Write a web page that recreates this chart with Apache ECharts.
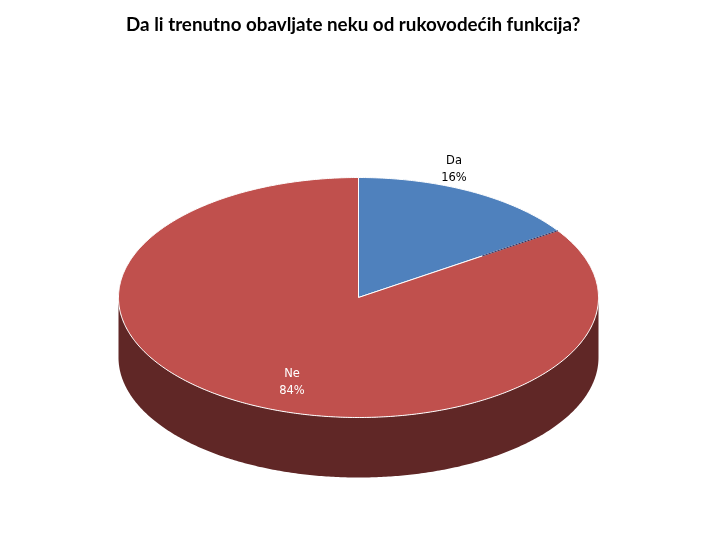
<!DOCTYPE html>
<html>
<head>
<meta charset="utf-8">
<style>html,body{margin:0;padding:0;background:#fff}#c{width:720px;height:540px}</style>
<script src="https://cdn.jsdelivr.net/npm/echarts@6/dist/echarts.min.js"></script>
</head>
<body>
<div id="c"></div>
<script>
const titleText = 'Da li trenutno obavljate neku od rukovodećih funkcija?';
const categories = ['Da', 'Ne'];
const shares = [15.6, 84.4];
const percentLabels = ['16%', '84%'];
const topColors = ['#4F81BD', '#C0504D'];
const labelColors = ['#000000', '#ffffff'];
const labelPixels = [[454, 170], [292, 383]];
const sideColor = '#602726';
const total = shares.reduce((a, b) => a + b, 0);
const depth = 0.5;
const TAU = Math.PI * 2;

function pt(api, theta, drop) {
  return api.coord([Math.sin(theta), Math.cos(theta) - (drop || 0)]);
}
function arc(api, from, to, drop) {
  const n = Math.max(2, Math.ceil(Math.abs(to - from) / 0.01));
  const out = [];
  for (let i = 0; i <= n; i++) out.push(pt(api, from + (to - from) * i / n, drop));
  return out;
}
function renderSlice(params, api) {
  const i = params.dataIndex;
  const before = shares.slice(0, i).reduce((a, b) => a + b, 0);
  const a0 = before / total * TAU;
  const a1 = (before + shares[i]) / total * TAU;
  const children = [];
  // wall: the visible front half of this slice's rim
  const f0 = Math.max(a0, Math.PI / 2), f1 = Math.min(a1, Math.PI * 1.5);
  if (f1 > f0) {
    children.push({
      type: 'polygon', z2: 1,
      shape: { points: arc(api, f0, f1, 0).concat(arc(api, f1, f0, depth)) },
      style: { fill: sideColor }
    });
  }
  const c = api.coord([0, 0]);
  children.push({
    type: 'polygon', z2: 2,
    shape: { points: [c].concat(arc(api, a0, a1, 0)) },
    style: { fill: topColors[i], stroke: '#ffffff', lineWidth: 1 }
  });
  return { type: 'group', children };
}
function renderEdge(params, api) {
  // dark outer half of the boundary between the two slices
  const a = shares[0] / total * TAU;
  const c = api.coord([0, 0]), e = pt(api, a, 0);
  return {
    type: 'line', z2: 5,
    shape: { x1: c[0] + (e[0] - c[0]) * 0.62, y1: c[1] + (e[1] - c[1]) * 0.62, x2: e[0], y2: e[1] },
    style: { stroke: '#3b3560', lineWidth: 1 }
  };
}
const chart = echarts.init(document.getElementById('c'), null, { renderer: 'canvas' });
chart.setOption({
  animation: false,
  backgroundColor: '#ffffff',
  title: {
    text: titleText, left: 121, top: 8,
    textStyle: { fontFamily: 'Lato', fontWeight: 'bold', fontSize: 18.8, color: '#000', lineHeight: 24 }
  },
  grid: { left: 118.5, top: 177.5, width: 480, height: 240 },
  xAxis: { type: 'value', min: -1, max: 1, show: false },
  yAxis: { type: 'value', min: -1, max: 1, show: false },
  series: [
    { type: 'custom', clip: false, coordinateSystem: 'cartesian2d', renderItem: renderSlice,
      data: categories.map((n, i) => ({ name: n, value: [0, 0, shares[i]] })), z: 2, silent: true },
    { type: 'custom', clip: false, coordinateSystem: 'cartesian2d', renderItem: renderEdge,
      data: [[0, 0]], z: 3, silent: true }
  ],
  graphic: categories.map((n, i) => ({
    type: 'text', z: 10, x: labelPixels[i][0], y: labelPixels[i][1],
    style: {
      text: n + '\n' + percentLabels[i], align: 'center', verticalAlign: 'middle',
      fontFamily: 'DejaVu Sans', fontSize: 11.5, lineHeight: 17, fill: labelColors[i]
    }
  }))
});
</script>
</body>
</html>
